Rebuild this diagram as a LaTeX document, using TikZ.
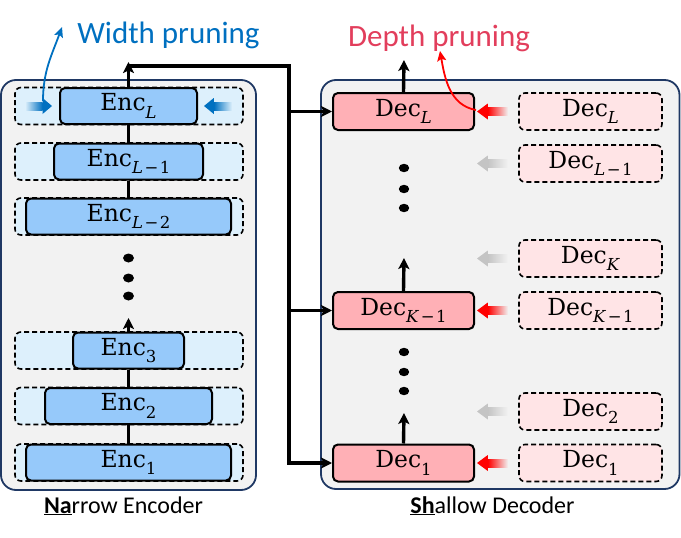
\documentclass[tikz,border=0pt]{standalone}
\usepackage{fontspec}
\newfontfamily\labelfont{Carlito}
\newfontfamily\layerface{DejaVu Serif}
\usetikzlibrary{
  arrows.meta,
  positioning,
  calc
}

\definecolor{panelfill}{RGB}{242,242,242}
\definecolor{panelline}{RGB}{31,56,100}
\definecolor{encblue}{RGB}{150,201,250}
\definecolor{slotblue}{RGB}{221,240,252}
\definecolor{decred}{RGB}{255,176,182}
\definecolor{slotred}{RGB}{255,228,230}
\definecolor{widthblue}{RGB}{0,112,192}
\definecolor{depthred}{RGB}{226,62,92}
\definecolor{fadegray}{RGB}{196,196,196}

\tikzset{
  panel/.style={draw=panelline, fill=panelfill, line width=1.8pt, rounded corners=15pt},
  layerfont/.style={font=\layerface\fontsize{23.5}{23.5}\selectfont},
  encslot/.style={draw=black, fill=slotblue, dash pattern=on 5pt off 3pt, line width=1.6pt,
    rounded corners=6pt, minimum width=228pt, minimum height=37pt, inner sep=0pt},
  encbox/.style={layerfont, draw=black, fill=encblue, line width=2pt, rounded corners=5pt,
    minimum height=36pt, inner sep=0pt},
  decbox/.style={layerfont, draw=black, fill=decred, line width=2pt, rounded corners=5pt,
    minimum width=141pt, minimum height=37pt, inner sep=0pt},
  decslot/.style={layerfont, draw=black, fill=slotred, dash pattern=on 5pt off 3pt, line width=1.6pt,
    rounded corners=6pt, minimum width=143pt, minimum height=37pt, inner sep=0pt},
  link/.style={line width=3.4pt},
  linkarrow/.style={link, -{Stealth[length=11pt, width=11pt, inset=2.5pt]}},
  prunearrow/.style={line width=1.8pt, -{Stealth[length=10pt, width=9pt, inset=2pt]}},
  prunelabel/.style={font=\labelfont\fontsize{31}{31}\selectfont, anchor=base},
  partlabel/.style={font=\labelfont\fontsize{24}{24}\selectfont, anchor=base},
  fade blue right/.style={left color=slotblue, right color=widthblue},
  fade blue left/.style={left color=widthblue, right color=slotblue},
  fade red/.style={left color=red, right color=panelfill},
  fade gray/.style={left color=fadegray, right color=panelfill}
}

% shaded arrow: #1 shading, #2 tip x, #3 tail x, #4 y, #5 head colour
\newcommand{\fadearrow}[5]{%
  \pgfmathsetmacro{\headbase}{#2+0.35*(#3-#2)}
  \shade[#1] (\headbase,#4-4) rectangle (#3,#4+4);
  \fill[#5] (#2,#4) -- (\headbase,#4-8) -- (\headbase,#4+8) -- cycle;
}
% layer label: name with lowered index
\newcommand{\layer}[2]{#1\raisebox{-7.5pt}{\fontsize{16.5}{16.5}\selectfont #2}}
\newcommand{\less}{\kern1.5pt−\kern1.5pt}

\begin{document}
\begin{tikzpicture}[x=1pt, y=-1pt]
  \useasboundingbox (0,0) rectangle (681,538);

  % panels
  \draw[panel] (1,80) rectangle (256,490);
  \draw[panel] (321,80) rectangle (679.5,489);

  % Narrow encoder: slots, then layers
  \node[encslot] (slotL)  at (129,106)   {};
  \node[encslot] (slotL1) at (129,161.5) {};
  \node[encslot] (slotL2) at (129,216.5) {};
  \node[encslot] (slot3)  at (129,350.5) {};
  \node[encslot] (slot2)  at (129,406)   {};
  \node[encslot] (slot1)  at (129,462.5) {};

  \node[encbox, minimum width=137pt] (encL)  at (128.5,106)   {\layer{Enc}{\textit{L}}};
  \node[encbox, minimum width=149pt] (encL1) at (128.5,161.5) {\layer{Enc}{\textit{L}\less 1}};
  \node[encbox, minimum width=205pt] (encL2) at (128.5,216.5) {\layer{Enc}{\textit{L}\less 2}};
  \node[encbox, minimum width=111pt] (enc3)  at (128.5,350.5) {\layer{Enc}{3}};
  \node[encbox, minimum width=167pt] (enc2)  at (128.5,406)   {\layer{Enc}{2}};
  \node[encbox, minimum width=205pt] (enc1)  at (128.5,462.5) {\layer{Enc}{1}};

  \draw[link] (encL2.north) -- (encL1.south);
  \draw[link] (encL1.north) -- (encL.south);
  \draw[link] (enc1.north) -- (enc2.south);
  \draw[link] (enc2.north) -- (enc3.south);
  \coordinate (encmid) at (128.5,318);
  \draw[linkarrow] (enc3.north) -- (encmid);
  \fill (128.5,258) ellipse (5.5 and 4.5);
  \fill (128.5,278) ellipse (5.5 and 4.5);
  \fill (128.5,296) ellipse (5.5 and 4.5);

  % Shallow decoder: kept layers and pruned stack
  \node[decbox] (decL)  at (403.5,111.5) {\layer{Dec}{\textit{L}}};
  \node[decbox] (decK1) at (403.5,310.5) {\layer{Dec}{\textit{K}\less 1}};
  \node[decbox] (dec1)  at (403.5,463)   {\layer{Dec}{1}};

  \node[decslot] (dslotL)  at (590.5,111.5) {\layer{Dec}{\textit{L}}};
  \node[decslot] (dslotL1) at (590.5,163.5) {\layer{Dec}{\textit{L}\less 1}};
  \node[decslot] (dslotK)  at (590.5,258.5) {\layer{Dec}{\textit{K}}};
  \node[decslot] (dslotK1) at (590.5,310.5) {\layer{Dec}{\textit{K}\less 1}};
  \node[decslot] (dslot2)  at (590.5,411.5) {\layer{Dec}{2}};
  \node[decslot] (dslot1)  at (590.5,463)   {\layer{Dec}{1}};

  \coordinate (decout) at (404,60);
  \coordinate (decmid) at (404,258);
  \coordinate (declow) at (404,413);
  \draw[linkarrow] (decL.north) -- (decout);
  \draw[linkarrow] (decK1.north) -- (decmid);
  \draw[linkarrow] (dec1.north) -- (declow);
  \fill (404,168) ellipse (5.2 and 4.2);
  \fill (404,189) ellipse (5.2 and 4.2);
  \fill (404,208) ellipse (5.2 and 4.2);
  \fill (404,352) ellipse (5.2 and 4.2);
  \fill (404,372) ellipse (5.2 and 4.2);
  \fill (404,391) ellipse (5.2 and 4.2);

  % encoder output to every kept decoder layer
  \coordinate (enctop) at (128.5,62);
  \coordinate (bus) at (289,66);
  \draw[linkarrow] (encL.north) -- (enctop);
  \draw[linkarrow] (encL.north |- bus) -- (bus) -- (bus |- dec1.west) -- (dec1.west);
  \draw[linkarrow] (bus |- decL.west) -- (decL.west);
  \draw[linkarrow] (bus |- decK1.west) -- (decK1.west);

  % shaded pruning arrows
  \fadearrow{fade blue right}{52}{25}{106}{widthblue}
  \fadearrow{fade blue left}{204}{232}{106}{widthblue}
  \fadearrow{fade red}{477}{508}{111.5}{red}
  \fadearrow{fade red}{477}{508}{310.5}{red}
  \fadearrow{fade red}{477}{508}{463}{red}
  \fadearrow{fade gray}{477}{508}{163.5}{fadegray}
  \fadearrow{fade gray}{477}{508}{258.5}{fadegray}
  \fadearrow{fade gray}{477}{508}{411.5}{fadegray}

  % labels
  \node[prunelabel, text=widthblue] (widthlbl) at (168.5,43) {Width pruning};
  \node[prunelabel, text=depthred] (depthlbl) at (439,46) {Depth pruning};
  \node[partlabel] (enclbl) at (123.5,513) {\underline{\textbf{Na}}rrow Encoder};
  \node[partlabel] (declbl) at (492.5,513) {\underline{\textbf{Sh}}allow Decoder};

  \coordinate (widthstart) at (43,101);
  \coordinate (widthend) at (62,27);
  \draw[prunearrow, widthblue] (widthstart) to[out=90, in=-110] (widthend);
  \coordinate (depthstart) at (476,110);
  \coordinate (depthend) at (440,51);
  \draw[prunearrow, red] (depthstart) to[out=170, in=-80] (depthend);
\end{tikzpicture}
\end{document}
